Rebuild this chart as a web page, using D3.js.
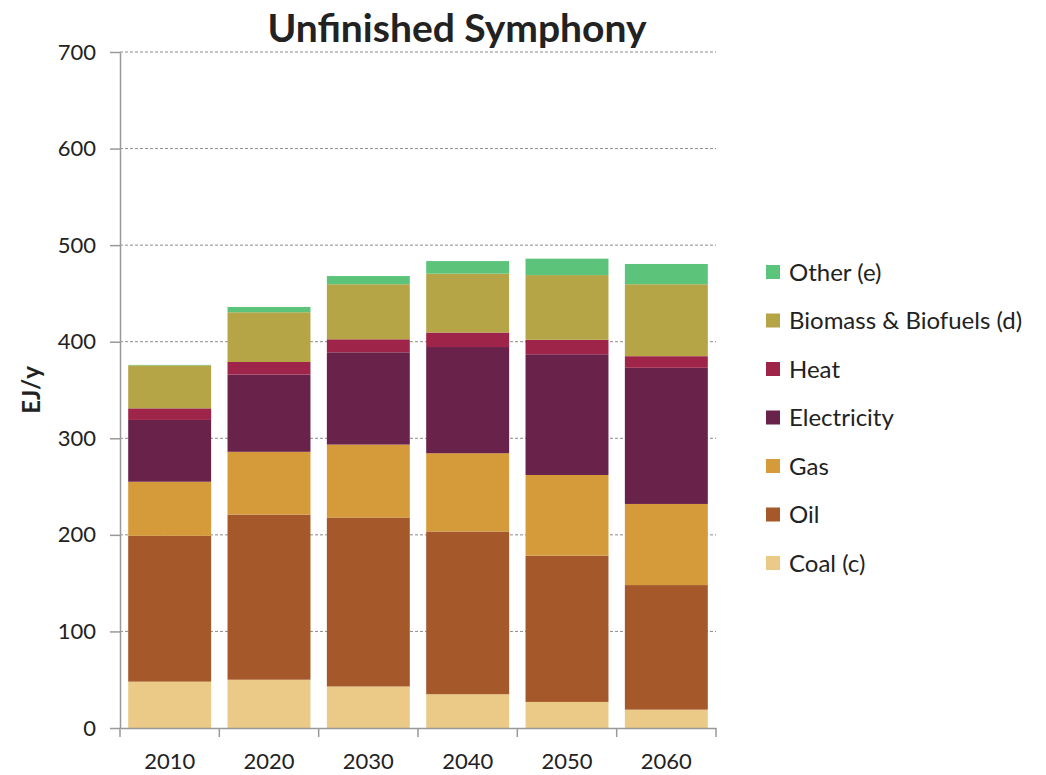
<!DOCTYPE html>
<html>
<head>
<meta charset="utf-8">
<script src="https://d3js.org/d3.v7.min.js"></script>
<style>
  body { margin: 0; background: #fff; }
  text { font-family: Lato, "Liberation Sans", sans-serif; fill: #222; }
</style>
</head>
<body>
<svg id="drawing_region"></svg>
<script>
const years = ['2010', '2020', '2030', '2040', '2050', '2060'];
const coal = [48, 50, 43, 35, 27, 19];
const oil = [151, 171, 175, 168.5, 151.5, 129];
const gas = [56, 65, 75.5, 81, 83.5, 84];
const electricity = [64, 80, 95.5, 110, 125, 141];
const heat = [12, 13, 13.5, 15, 15, 12];
const biomass = [44.5, 51.5, 57, 61, 67, 74.5];
const other = [0.5, 5.5, 8.5, 13, 17, 21];
const series_names = ['Coal (c)', 'Oil', 'Gas', 'Electricity', 'Heat', 'Biomass & Biofuels (d)', 'Other (e)'];
const series_colors = ['#eaca86', '#a5582a', '#d59a3a', '#69234b', '#9e2449', '#b5a547', '#5bc47a'];
const y_ticks = [0, 100, 200, 300, 400, 500, 600, 700];

const series_values = [coal, oil, gas, electricity, heat, biomass, other];
const table = years.map((y, i) => {
    const row = { year: y };
    series_names.forEach((name, j) => { row[name] = series_values[j][i]; });
    return row;
});

const config = {
    width: 1046,
    height: 775,
    margin: { top: 52, right: 330, bottom: 47, left: 120 }
};

const svg = d3.select('#drawing_region')
    .attr('width', config.width)
    .attr('height', config.height);

const inner_width = config.width - config.margin.left - config.margin.right;
const inner_height = config.height - config.margin.top - config.margin.bottom;

const chart = svg.append('g')
    .attr('transform', `translate(${config.margin.left}, ${config.margin.top})`);

const xscale = d3.scaleBand()
    .domain(years)
    .range([0, inner_width])
    .paddingInner(0.165)
    .paddingOuter(0.0825);
const yscale = d3.scaleLinear()
    .domain([0, 700])
    .range([inner_height, 0]);

// dashed grid lines
chart.append('g')
    .selectAll('line')
    .data(y_ticks.filter(d => d > 0))
    .join('line')
    .attr('x1', 0)
    .attr('x2', inner_width)
    .attr('y1', d => yscale(d))
    .attr('y2', d => yscale(d))
    .attr('stroke', '#8c8c8c')
    .attr('stroke-width', 1)
    .attr('stroke-dasharray', '3,2');

// stacked bars
const stack = d3.stack().keys(series_names)(table);
chart.append('g')
    .selectAll('g')
    .data(stack)
    .join('g')
    .attr('fill', (d, i) => series_colors[i])
    .selectAll('rect')
    .data(d => d)
    .join('rect')
    .attr('x', d => xscale(d.data.year))
    .attr('y', d => yscale(d[1]))
    .attr('width', xscale.bandwidth())
    .attr('height', d => yscale(d[0]) - yscale(d[1]));

// y axis
const yaxis = d3.axisLeft(yscale)
    .tickValues(y_ticks)
    .tickSize(10)
    .tickPadding(14)
    .tickSizeOuter(0);
const yaxis_group = chart.append('g').call(yaxis);
yaxis_group.select('.domain').attr('stroke', '#999').attr('stroke-width', 1.5);
yaxis_group.selectAll('.tick line').attr('stroke', '#999').attr('stroke-width', 1.5);
yaxis_group.selectAll('.tick text')
    .style('font-size', '22px')
    .attr('fill', '#222');

// x axis
const xaxis = d3.axisBottom(xscale)
    .tickSize(0)
    .tickPadding(25)
    .tickSizeOuter(0);
const xaxis_group = chart.append('g')
    .attr('transform', `translate(0, ${inner_height})`)
    .call(xaxis);
xaxis_group.select('.domain').attr('stroke', '#999').attr('stroke-width', 1.5);
xaxis_group.selectAll('.tick text')
    .style('font-size', '22px')
    .attr('fill', '#222');
// category boundary ticks
xaxis_group.append('g')
    .selectAll('line')
    .data(d3.range(years.length + 1))
    .join('line')
    .attr('x1', d => d * xscale.step())
    .attr('x2', d => d * xscale.step())
    .attr('y1', 0)
    .attr('y2', 9)
    .attr('stroke', '#999')
    .attr('stroke-width', 1.5);

// title
svg.append('text')
    .attr('x', 457)
    .attr('y', 42)
    .attr('text-anchor', 'middle')
    .style('font-size', '39px')
    .style('font-weight', 'bold')
    .attr('fill', '#000')
    .text('Unfinished Symphony');

// y label
svg.append('text')
    .attr('transform', 'rotate(-90)')
    .attr('x', -390)
    .attr('y', 40)
    .attr('text-anchor', 'middle')
    .style('font-size', '24px')
    .style('font-weight', 'bold')
    .attr('fill', '#000')
    .text('EJ/y');

// legend (top item is the last series)
const legend = svg.append('g')
    .attr('transform', 'translate(766, 272)');
const legend_items = legend.selectAll('g')
    .data(series_names.slice().reverse())
    .join('g')
    .attr('transform', (d, i) => `translate(0, ${i * 48.5})`);
legend_items.append('rect')
    .attr('x', 0)
    .attr('y', -7)
    .attr('width', 14)
    .attr('height', 14)
    .attr('fill', d => series_colors[series_names.indexOf(d)]);
legend_items.append('text')
    .attr('x', 23)
    .attr('dy', '0.36em')
    .style('font-size', '24px')
    .text(d => d);
</script>
</body>
</html>
